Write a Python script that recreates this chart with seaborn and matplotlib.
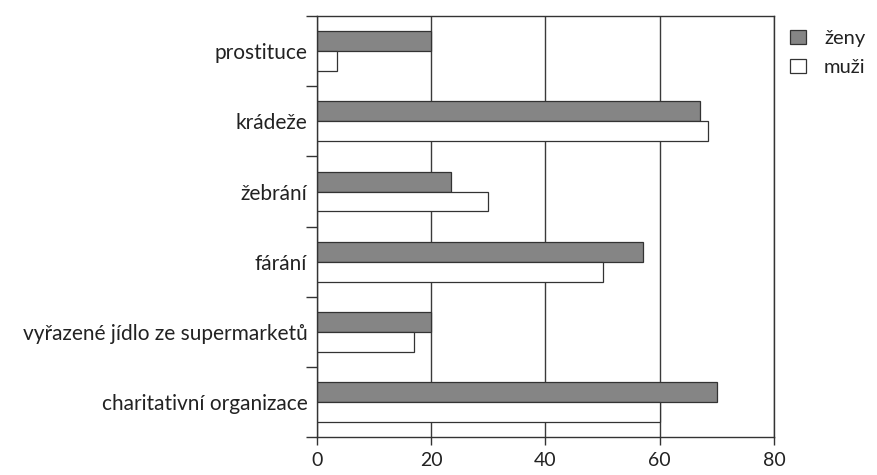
import numpy as np
import pandas as pd
import matplotlib
matplotlib.use('Agg')
import matplotlib.pyplot as plt
import seaborn as sns

# data
kategorie = ['prostituce', 'krádeže', 'žebrání', 'fárání',
             'vyřazené jídlo ze supermarketů', 'charitativní organizace']
zeny = [20, 67, 23.5, 57, 20, 70]
muzi = [3.5, 68.5, 30, 50, 17, 60]

df = pd.DataFrame({'kategorie': kategorie * 2,
                   'hodnota': zeny + muzi,
                   'pohlavi': ['ženy'] * 6 + ['muži'] * 6})

sns.set_style('white')
plt.rcParams['font.family'] = ['Lato', 'DejaVu Sans']

fig = plt.figure(figsize=(8.77, 4.75), dpi=100)
ax = fig.add_axes([0.3615, 0.08, 0.521, 0.886])

ax.set_axisbelow(True)
ax.xaxis.grid(True, color='#3a3a3a', linewidth=1.0)

sns.barplot(data=df, y='kategorie', x='hodnota', hue='pohlavi', orient='h',
            palette={'ženy': '#858585', 'muži': 'white'}, width=0.57,
            edgecolor='#333333', linewidth=0.9, ax=ax)

ax.set_xlim(0, 80)
ax.set_ylim(5.5, -0.5)
ax.set_xticks([0, 20, 40, 60, 80])
ax.set_xlabel('')
ax.set_ylabel('')
ax.tick_params(axis='x', length=6, width=1, color='#333333', labelsize=14,
               labelcolor='#222222', pad=5, direction='out', bottom=True)
ax.tick_params(axis='y', which='major', length=0, labelsize=15,
               labelcolor='#222222', pad=7)
ax.set_yticks(np.arange(-0.5, 6.0, 1.0), minor=True)
ax.tick_params(axis='y', which='minor', length=8, width=1, color='#333333',
               left=True)

for s in ax.spines.values():
    s.set_color('#333333')
    s.set_linewidth(1.0)

leg = ax.legend(loc='upper left', bbox_to_anchor=(0.995, 1.01), frameon=False,
                fontsize=14.5, handlelength=0.8, handleheight=0.7,
                handletextpad=0.9, labelspacing=0.6)
for t in leg.get_texts():
    t.set_color('#222222')

fig.savefig('out.png', dpi=100)
